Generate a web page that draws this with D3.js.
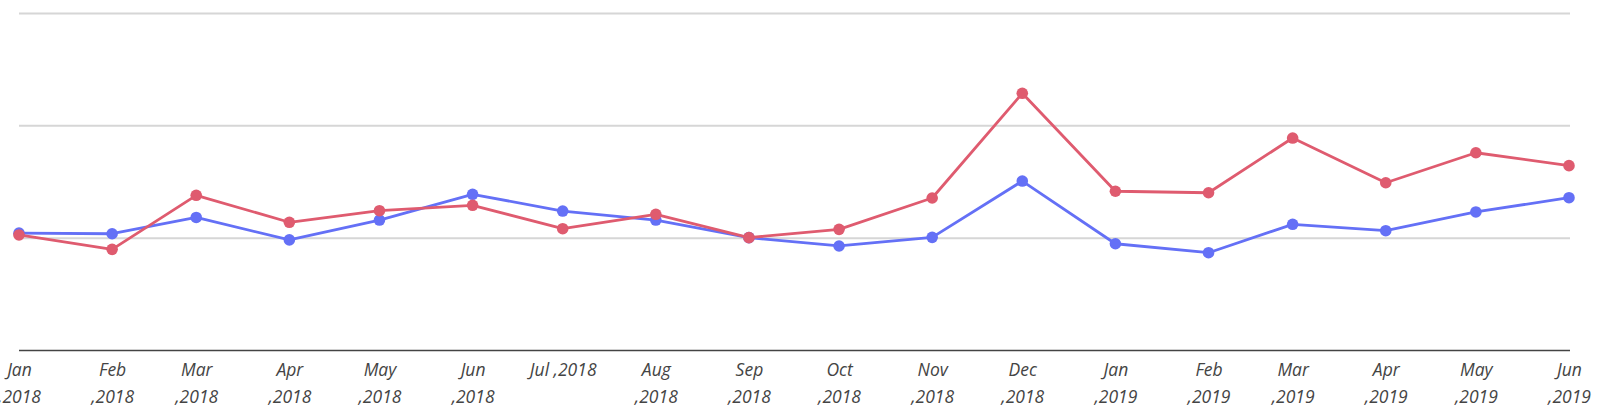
<!DOCTYPE html>
<html>
<head>
<meta charset="utf-8">
<script src="https://cdn.jsdelivr.net/npm/d3@7"></script>
<style>
  html, body { margin: 0; padding: 0; background: #fff; }
  svg { display: block; }
  .tick text { font-family: "Open Sans", sans-serif; font-style: italic; font-weight: 400; font-size: 17.5px; fill: #444; }
</style>
</head>
<body>
<svg id="chart" width="1600" height="419"></svg>
<script>
const months = ["2018-01-01","2018-02-01","2018-03-01","2018-04-01","2018-05-01","2018-06-01",
  "2018-07-01","2018-08-01","2018-09-01","2018-10-01","2018-11-01","2018-12-01",
  "2019-01-01","2019-02-01","2019-03-01","2019-04-01","2019-05-01","2019-06-01"];
const tickLabels = ["Jan ,2018","Feb ,2018","Mar ,2018","Apr ,2018","May ,2018","Jun ,2018",
  "Jul ,2018","Aug ,2018","Sep ,2018","Oct ,2018","Nov ,2018","Dec ,2018",
  "Jan ,2019","Feb ,2019","Mar ,2019","Apr ,2019","May ,2019","Jun ,2019"];
const seriesBlue = [104, 103.5, 118, 98, 115.7, 138.6, 123.7, 115.7, 100, 92.6, 100.3, 150.4, 94.6, 86.6, 111.9, 106.2, 122.9, 135.6];
const seriesRed  = [102.4, 89.6, 137.7, 113.7, 124, 128.8, 108, 120.8, 100, 107.4, 135.3, 228.5, 141.3, 140, 188.7, 148.9, 175.6, 164.1];
const yTicks = [0, 100, 200, 300];

const parse = d3.timeParse("%Y-%m-%d");
const dates = months.map(parse);

const svg = d3.select("#chart");
const mLeft = 19, mRight = 1569, mTop = 13, mBottom = 350;

const x = d3.scaleTime().domain([dates[0], dates[dates.length - 1]]).range([mLeft, mRight]);
const y = d3.scaleLinear().domain([0, 300]).range([mBottom, mTop]);

// gridlines
svg.append("g")
  .attr("transform", `translate(${mLeft},0)`)
  .call(d3.axisLeft(y).tickValues(yTicks.slice(1)).tickSize(-(mRight - mLeft + 1)).tickFormat(""))
  .call(g => g.select(".domain").remove())
  .call(g => g.selectAll(".tick line").attr("stroke", "#d6d6d6").attr("stroke-width", 2));

// x axis
const xAxis = svg.append("g")
  .attr("transform", `translate(0,${mBottom})`)
  .call(d3.axisBottom(x).tickValues(dates).tickSize(0).tickPadding(20)
    .tickFormat((d, i) => tickLabels[i]));
xAxis.select(".domain").attr("stroke", "#444").attr("stroke-width", 1.6)
  .attr("d", `M${mLeft},0.5H${mRight + 1}`);

function wrap(texts, width) {
  texts.each(function () {
    const t = d3.select(this);
    const words = t.text().split(" ");
    const yy = t.attr("y");
    t.text(null);
    let lineWords = [];
    let lineNo = 0;
    let ts = t.append("tspan").attr("x", 0).attr("y", yy).attr("dy", "0.71em");
    words.forEach(w => {
      lineWords.push(w);
      ts.text(lineWords.join(" "));
      if (ts.node().getComputedTextLength() > width && lineWords.length > 1) {
        lineWords.pop();
        ts.text(lineWords.join(" "));
        lineWords = [w];
        lineNo++;
        ts = t.append("tspan").attr("x", 0).attr("y", yy).attr("dy", (0.71 + lineNo * 1.49) + "em").text(w);
      }
    });
  });
}
// wrap threshold: the narrowest label ("Jul ,2018") fits on one line, the rest wrap
const probe = xAxis.append("text").style("font-family", "'Open Sans', sans-serif")
  .style("font-style", "italic").style("font-size", "17.5px").text(tickLabels[6]);
const wrapWidth = probe.node().getComputedTextLength() + 1;
probe.remove();
xAxis.selectAll(".tick text").attr("y", 14).call(wrap, wrapWidth);

const lineGen = d3.line().x((d, i) => x(dates[i])).y(d => y(d));

function drawSeries(vals, color) {
  svg.append("path").datum(vals)
    .attr("fill", "none").attr("stroke", color).attr("stroke-width", 2.8)
    .attr("stroke-linejoin", "round").attr("d", lineGen);
  svg.append("g").selectAll("circle").data(vals).join("circle")
    .attr("cx", (d, i) => x(dates[i])).attr("cy", d => y(d)).attr("r", 5.8)
    .attr("fill", color);
}
drawSeries(seriesBlue, "#6470f6");
drawSeries(seriesRed, "#df5b6f");
</script>
</body>
</html>
